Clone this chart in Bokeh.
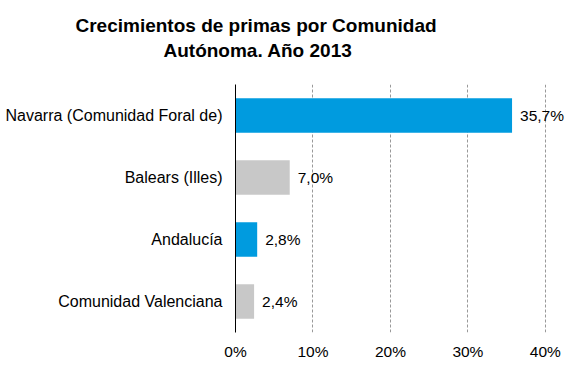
from bokeh.plotting import figure
from bokeh.models import ColumnDataSource, FactorRange, Range1d, LabelSet, Title, FixedTicker, PrintfTickFormatter
from bokeh.core.properties import value
from bokeh.embed import file_html
from bokeh.resources import INLINE

# Data (top to bottom as shown in chart)
categories = ["Navarra (Comunidad Foral de)", "Balears (Illes)", "Andalucía", "Comunidad Valenciana"]
values = [35.7, 7.0, 2.8, 2.4]
colors = ["#009BDF", "#C8C8C8", "#009BDF", "#C8C8C8"]
x_ticks = [0, 10, 20, 30, 40]
title_lines = ["Crecimientos  de primas por Comunidad", "Autónoma. Año 2013"]

labels = [f"{v:.1f}%".replace(".", ",") for v in values]
source = ColumnDataSource(dict(cat=categories, val=values, color=colors, label=labels))

FONT = "Liberation Sans"
FS = "15.5px"

p = figure(width=566, height=376, output_backend="svg", toolbar_location=None,
           y_range=FactorRange(factors=list(reversed(categories))),
           x_range=Range1d(0, 42.6),
           min_border_left=235, min_border_right=1, min_border_top=84, min_border_bottom=44)
p.outline_line_color = None
p.background_fill_color = "white"
p.border_fill_color = "white"

p.hbar(y="cat", right="val", height=0.56, left=0, color="color", line_color=None, source=source)

p.add_layout(LabelSet(x="val", y="cat", text="label", source=source, x_offset=8,
                      text_baseline="middle", text_align="left",
                      text_font=value(FONT), text_font_size=FS, text_color="#000000"))

# Axes
p.xaxis.ticker = FixedTicker(ticks=x_ticks)
p.xaxis.formatter = PrintfTickFormatter(format="%d%%")
p.xaxis.axis_line_color = None
p.xaxis.major_tick_line_color = None
p.xaxis.minor_tick_line_color = None
p.xaxis.major_tick_in = 0
p.xaxis.major_tick_out = 0
p.xaxis.major_label_standoff = 10
p.xaxis.major_label_text_font = FONT
p.xaxis.major_label_text_font_size = FS
p.xaxis.major_label_text_color = "#000000"

p.yaxis.axis_line_color = "#000000"
p.yaxis.axis_line_width = 1
p.yaxis.major_tick_line_color = None
p.yaxis.minor_tick_line_color = None
p.yaxis.major_tick_in = 0
p.yaxis.major_tick_out = 0
p.yaxis.major_label_standoff = 13
p.yaxis.major_label_text_font = FONT
p.yaxis.major_label_text_font_size = "16px"
p.yaxis.major_label_text_color = "#000000"

p.xgrid.grid_line_color = "#999999"
p.xgrid.grid_line_dash = "3 2"
p.xgrid.ticker = FixedTicker(ticks=x_ticks[1:])
p.ygrid.grid_line_color = None

# Title (two lines): blank spacer next to the frame, then second line, p.title outermost
p.title.text = title_lines[0]
p.title.align = "left"
p.title.offset = -160
p.title.text_font = FONT
p.title.text_font_style = "bold"
p.title.text_font_size = "19px"
p.title.text_color = "#000000"
p.title.standoff = 2
p.add_layout(Title(text=" ", text_font=FONT, text_font_size="19px", standoff=0), "above")
p.add_layout(Title(text=title_lines[1], align="left", offset=-72,
                   text_font=FONT, text_font_style="bold", text_font_size="19px",
                   text_color="#000000", standoff=2), "above")

open("out.html", "w").write(file_html(p, INLINE))
